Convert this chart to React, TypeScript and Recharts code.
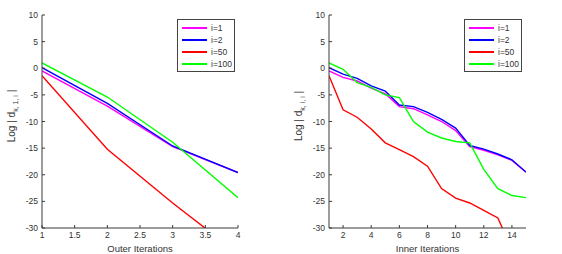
import React from "react";
import { LineChart, Line, XAxis, YAxis, Legend } from "recharts";

// series names and colours (shared by both panels)
const seriesNames = ["i=1", "i=2", "i=50", "i=100"];
const seriesColors = ["#ff00ff", "#0000ff", "#ff0000", "#00ff00"];

// left panel: outer iterations
const outerIters = [1, 2, 3, 4];
const outerI1 = [-0.5, -7.1, -14.7, -19.6];
const outerI2 = [0.1, -6.6, -14.6, -19.6];
const outerI50 = [-1.4, -15.2, -25.3, -34.8];
const outerI100 = [1.0, -5.4, -13.9, -24.3];
const outerTicks = [1, 1.5, 2, 2.5, 3, 3.5, 4];

// right panel: inner iterations
const innerIters = [1, 2, 3, 4, 5, 6, 7, 8, 9, 10, 11, 12, 13, 14, 15];
const innerI1 = [-0.5, -1.7, -2.4, -3.75, -4.8, -7.2, -7.6, -8.75, -10, -11.7, -14.7, -15.4, -16.25, -17.3, -19.5];
const innerI2 = [0.1, -1.1, -1.9, -3.3, -4.3, -6.9, -7.2, -8.3, -9.6, -11.25, -14.5, -15.2, -16.1, -17.2, -19.5];
const innerI50 = [-1.4, -7.8, -9.2, -11.4, -14, -15.3, -16.6, -18.4, -22.6, -24.4, -25.3, -26.7, -28.1, -34, -36];
const innerI100 = [1.0, -0.2, -2.7, -3.6, -5.0, -5.5, -10, -12, -13.1, -13.75, -14, -19, -22.6, -23.9, -24.3];
const innerTicks = [2, 4, 6, 8, 10, 12, 14];

const yTicks = [-30, -25, -20, -15, -10, -5, 0, 5, 10];

const outerData = outerIters.map((x, k) => ({
  x,
  s0: outerI1[k],
  s1: outerI2[k],
  s2: outerI50[k],
  s3: outerI100[k],
}));
const innerData = innerIters.map((x, k) => ({
  x,
  s0: innerI1[k],
  s1: innerI2[k],
  s2: innerI50[k],
  s3: innerI100[k],
}));

const FONT = "'Liberation Sans', Arial, sans-serif";
const AXIS = "#3a3a3a";
const TXT = "#333";

function InTick(props: any) {
  const { x, y, payload, side, showText } = props;
  let line = null;
  let text = null;
  if (side === "bottom") {
    line = <line x1={x} y1={y} x2={x} y2={y - 3} stroke={AXIS} />;
    if (showText)
      text = (
        <text x={x} y={y + 10} textAnchor="middle" fontSize={8.5} fill={TXT} fontFamily={FONT}>
          {payload.value}
        </text>
      );
  } else if (side === "top") {
    line = <line x1={x} y1={y} x2={x} y2={y + 3} stroke={AXIS} />;
  } else if (side === "left") {
    line = <line x1={x} y1={y} x2={x + 3} y2={y} stroke={AXIS} />;
    if (showText)
      text = (
        <text x={x - 4} y={y + 3} textAnchor="end" fontSize={8.5} fill={TXT} fontFamily={FONT}>
          {payload.value}
        </text>
      );
  } else {
    line = <line x1={x} y1={y} x2={x - 3} y2={y} stroke={AXIS} />;
  }
  return (
    <g>
      {line}
      {text}
    </g>
  );
}

function LegendBox() {
  return (
    <div
      style={{
        width: 58,
        height: 53,
        border: "1px solid #444",
        background: "#fff",
        boxSizing: "border-box",
        fontFamily: FONT,
        fontSize: 8.5,
        color: TXT,
        paddingTop: 2,
      }}
    >
      {seriesNames.map((name, k) => (
        <div key={name} style={{ display: "flex", alignItems: "center", height: 12 }}>
          <div style={{ marginLeft: 4, width: 25, height: 2, background: seriesColors[k] }} />
          <span style={{ marginLeft: 4 }}>{name}</span>
        </div>
      ))}
    </div>
  );
}

function YLabel({ x, y, mid }: { x: number; y: number; mid: string }) {
  return (
    <text
      transform={`translate(${x},${y}) rotate(-90)`}
      textAnchor="middle"
      fontSize={10}
      fill={TXT}
      fontFamily={FONT}
    >
      {"Log  | d"}
      <tspan fontSize={7} dy={3}>
        {mid}
      </tspan>
      <tspan dy={-3}>{"  |"}</tspan>
    </text>
  );
}

function Panel({
  data,
  domain,
  ticks,
  margin,
  xLabel,
  yMid,
  legendLeft,
  labelX,
}: any) {
  return (
    <LineChart width={281} height={254} data={data} margin={margin}>
      <XAxis
        xAxisId="b"
        dataKey="x"
        type="number"
        domain={domain}
        ticks={ticks}
        allowDataOverflow
        height={26}
        stroke={AXIS}
        tickLine={false}
        tickSize={0}
        tickMargin={0}
        interval={0}
        tick={(p: any) => <InTick {...p} side="bottom" showText />}
        label={{ value: xLabel, position: "insideBottom", offset: 2, fontSize: 9.5, fill: TXT, fontFamily: FONT }}
      />
      <XAxis
        xAxisId="t"
        orientation="top"
        dataKey="x"
        type="number"
        domain={domain}
        ticks={ticks}
        allowDataOverflow
        height={0}
        stroke={AXIS}
        tickLine={false}
        tickSize={0}
        tickMargin={0}
        interval={0}
        tick={(p: any) => <InTick {...p} side="top" />}
      />
      <YAxis
        yAxisId="l"
        type="number"
        domain={[-30, 10]}
        ticks={yTicks}
        allowDataOverflow
        width={30}
        stroke={AXIS}
        tickLine={false}
        tickSize={0}
        tickMargin={0}
        interval={0}
        tick={(p: any) => <InTick {...p} side="left" showText />}
        label={() => <YLabel x={labelX} y={116} mid={yMid} />}
      />
      <YAxis
        yAxisId="r"
        orientation="right"
        type="number"
        domain={[-30, 10]}
        ticks={yTicks}
        allowDataOverflow
        width={0}
        stroke={AXIS}
        tickLine={false}
        tickSize={0}
        tickMargin={0}
        interval={0}
        tick={(p: any) => <InTick {...p} side="right" />}
      />
      {seriesNames.map((name, k) => (
        <Line
          key={name}
          xAxisId="b"
          yAxisId="l"
          dataKey={`s${k}`}
          name={name}
          stroke={seriesColors[k]}
          strokeWidth={1.4}
          dot={false}
          type="linear"
          isAnimationActive={false}
        />
      ))}
      <Legend
        layout="vertical"
        align="center"
        verticalAlign="middle"
        content={() => <LegendBox />}
        wrapperStyle={{ top: 19, left: legendLeft, width: 58, height: 53 }}
      />
    </LineChart>
  );
}

export default function App() {
  return (
    <div
      style={{
        position: "fixed",
        left: 0,
        top: 0,
        width: 562,
        height: 254,
        background: "#fff",
        display: "flex",
      }}
    >
      <Panel
        data={outerData}
        domain={[1, 4]}
        ticks={outerTicks}
        margin={{ top: 15, right: 43, bottom: 0, left: 12 }}
        xLabel="Outer Iterations"
        yMid="k, 1, i"
        legendLeft={177}
        labelX={15}
      />
      <Panel
        data={innerData}
        domain={[1, 15]}
        ticks={innerTicks}
        margin={{ top: 15, right: 36, bottom: 0, left: 18 }}
        xLabel="Inner Iterations"
        yMid="k, i, i"
        legendLeft={183}
        labelX={21}
      />
    </div>
  );
}
